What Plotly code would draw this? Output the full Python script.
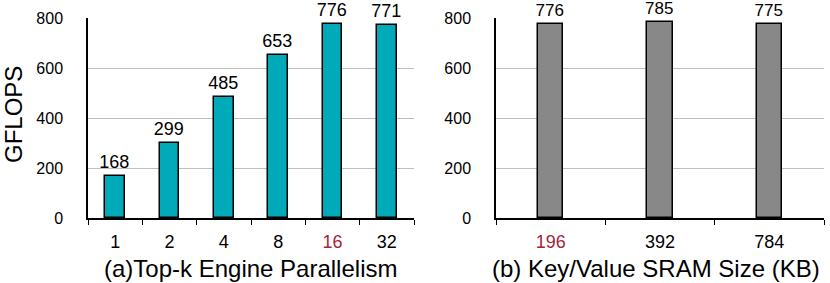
import plotly.graph_objects as go

# Data
cats_a = ["1", "2", "4", "8", "16", "32"]
vals_a = [168, 299, 485, 653, 776, 771]
cats_b = ["196", "392", "784"]
vals_b = [776, 785, 775]
yticks = [0, 200, 400, 600, 800]
title_a = "(a)Top-k Engine Parallelism"
title_b = "(b) Key/Value SRAM Size (KB)"
ytitle = "GFLOPS"
highlight_a = "16"
highlight_b = "196"

RED = "#A3263A"
W, H = 830, 283

def ticktext(cats, hl):
    return [f"<span style='color:{RED}'>{c}</span>" if c == hl else c for c in cats]

fig = go.Figure()
fig.add_trace(go.Bar(x=cats_a, y=vals_a, text=[str(v) for v in vals_a], textposition="outside",
                     marker=dict(color="#00AAB8", line=dict(color="black", width=1.5)),
                     width=0.36, textfont=dict(size=18, color="black"), cliponaxis=False,
                     constraintext="none", xaxis="x", yaxis="y", showlegend=False))
fig.add_trace(go.Bar(x=cats_b, y=vals_b, text=[str(v) for v in vals_b], textposition="outside",
                     marker=dict(color="#888888", line=dict(color="black", width=1.5)),
                     width=0.23, textfont=dict(size=17, color="black"), cliponaxis=False,
                     constraintext="none", xaxis="x2", yaxis="y2", showlegend=False))

ydom = [(H - 218) / H, (H - 18) / H]
common_x = dict(type="category", showgrid=False, showline=True, linecolor="black", linewidth=1.5,
                ticks="outside", ticklen=5, tickcolor="black", tickwidth=1, tickson="boundaries",
                tickfont=dict(size=18, color="black"), ticklabelstandoff=7, fixedrange=True,
                automargin=False)
common_y = dict(range=[0, 800], tickvals=yticks, showgrid=True, gridcolor="#BDBDBD", gridwidth=1,
                showline=True, linecolor="black", linewidth=1.5, ticks="", zeroline=False,
                tickfont=dict(size=16, color="black"), ticklabelstandoff=20, domain=ydom,
                automargin=False, fixedrange=True)

fig.update_layout(
    width=W, height=H, margin=dict(l=0, r=0, t=0, b=0, autoexpand=False),
    paper_bgcolor="white", plot_bgcolor="white",
    font=dict(family="Liberation Sans, Arial, sans-serif", color="black"),
    xaxis=dict(domain=[88 / W, 414 / W], anchor="y", tickvals=cats_a,
               ticktext=ticktext(cats_a, highlight_a), **common_x),
    yaxis=dict(anchor="x", **common_y),
    xaxis2=dict(domain=[496 / W, 824 / W], anchor="y2", tickvals=cats_b,
                ticktext=ticktext(cats_b, highlight_b), **common_x),
    yaxis2=dict(anchor="x2", **common_y),
    bargap=0,
    annotations=[
        dict(text=title_a, x=250 / W, y=(H - 268) / H, xref="paper", yref="paper",
             showarrow=False, font=dict(size=24, color="black"), xanchor="center", yanchor="middle"),
        dict(text=title_b, x=656 / W, y=(H - 268) / H, xref="paper", yref="paper",
             showarrow=False, font=dict(size=24, color="black"), xanchor="center", yanchor="middle"),
        dict(text=ytitle, x=13 / W, y=(H - 115) / H, xref="paper", yref="paper", textangle=-90,
             showarrow=False, font=dict(size=24, color="black"), xanchor="center", yanchor="middle"),
    ],
)

fig.write_html("out.html", config={"displayModeBar": False},
               post_script="document.body.style.margin='0';document.body.style.overflow='hidden';")
